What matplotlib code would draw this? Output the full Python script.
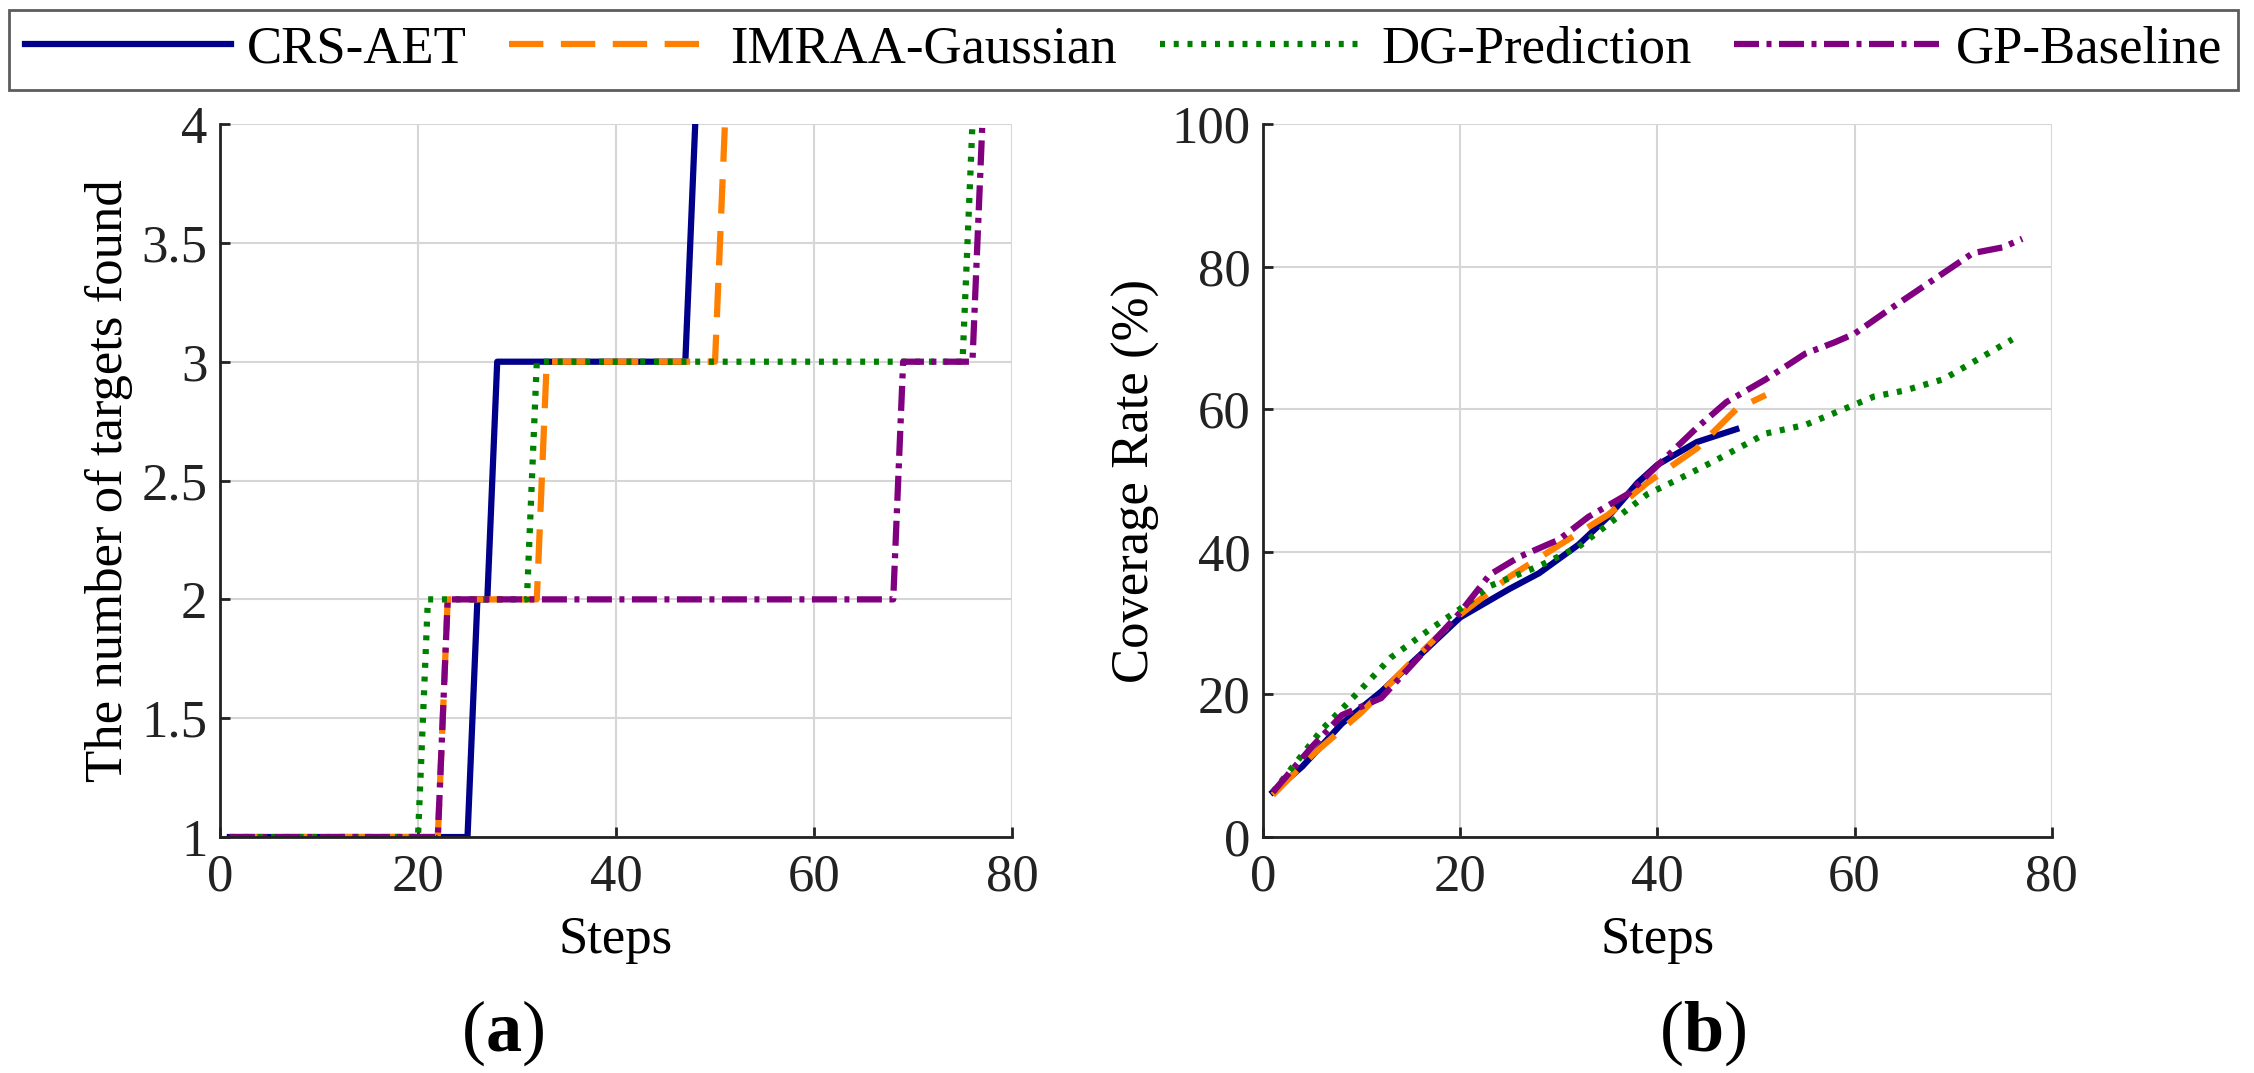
import matplotlib
matplotlib.use("Agg")
import matplotlib.pyplot as plt

plt.rcParams['font.family'] = ['Liberation Serif', 'DejaVu Serif']
plt.rcParams['mathtext.fontset'] = 'custom'
plt.rcParams['mathtext.rm'] = 'Liberation Serif'
plt.rcParams['mathtext.bf'] = 'Liberation Serif:bold'

# ---- data ----
labels = ['CRS-AET', 'IMRAA-Gaussian', 'DG-Prediction', 'GP-Baseline']
colors = ['#00008b', '#ff8000', '#008000', '#800080']

# (a) number of targets found (breakpoints of the step curves)
crs_steps = [1, 25, 26, 27, 28, 47, 48]
crs_found = [1, 1, 2, 2, 3, 3, 4]
imraa_steps = [1, 22, 23, 32, 33, 50, 51]
imraa_found = [1, 1, 2, 2, 3, 3, 4]
dg_steps = [1, 20, 21, 31, 32, 75, 76]
dg_found = [1, 1, 2, 2, 3, 3, 4]
gp_steps = [1, 22, 23, 68, 69, 76, 77]
gp_found = [1, 1, 2, 2, 3, 3, 4]

# (b) coverage rate (%)
crs_cov_x = [1, 4, 8, 12, 16, 20, 23, 25, 28, 32, 35, 38, 40, 44, 48]
crs_cov_y = [6.3, 9.9, 15.9, 20.4, 25.6, 30.8, 33.2, 34.8, 37.0, 41.0, 44.9, 49.7, 52.2, 55.4, 57.2]
imraa_cov_x = [1, 5, 10, 15, 20, 25, 30, 35, 39, 44, 48, 51]
imraa_cov_y = [5.9, 11.5, 17.5, 24.5, 31.2, 36.5, 40.9, 45.2, 49.7, 54.5, 60.0, 62.0]
dg_cov_x = [1, 6, 10, 13, 17, 20, 23, 28, 32, 36, 39, 42, 46, 51, 55, 58, 62, 65, 69, 72, 76]
dg_cov_y = [6.3, 15.1, 20.8, 25.2, 29.2, 32.0, 35.2, 38.0, 40.7, 44.9, 48.1, 50.1, 52.9,
            56.6, 57.8, 59.5, 61.8, 62.6, 64.2, 66.6, 69.8]
gp_cov_x = [1, 5, 8, 12, 16, 20, 23, 26, 30, 33, 37, 40, 44, 47, 51, 55, 58, 60, 63, 66,
            69, 72, 75, 77]
gp_cov_y = [6.3, 12.7, 17.1, 19.5, 25.5, 31.5, 36.8, 39.3, 41.7, 44.9, 48.1, 52.1, 57.4,
            61.0, 64.2, 67.8, 69.4, 70.6, 73.5, 76.3, 79.1, 81.9, 82.7, 83.9]

lw = 4.5
styles = [
    dict(linestyle='-'),
    dict(linestyle=(0, (5.5, 2.8))),
    dict(linestyle=(0, (0.8, 1.4))),
    dict(linestyle=(0, (4, 1.2, 0.8, 1.2))),
]

fig = plt.figure(figsize=(22.54, 10.73), dpi=100)
ax1 = fig.add_axes([0.0976, 0.2199, 0.3514, 0.6645])
ax2 = fig.add_axes([0.5603, 0.2199, 0.3500, 0.6645])

left_data = [(crs_steps, crs_found), (imraa_steps, imraa_found),
             (dg_steps, dg_found), (gp_steps, gp_found)]
right_data = [(crs_cov_x, crs_cov_y), (imraa_cov_x, imraa_cov_y),
              (dg_cov_x, dg_cov_y), (gp_cov_x, gp_cov_y)]

handles = []
for (x, y), c, st, lab in zip(left_data, colors, styles, labels):
    h, = ax1.plot(x, y, color=c, lw=lw, label=lab, **st)
    handles.append(h)
for (x, y), c, st in zip(right_data, colors, styles):
    ax2.plot(x, y, color=c, lw=lw, **st)

def style_axes(ax):
    ax.grid(True, color='#d6d6d6', lw=1.5)
    ax.set_axisbelow(True)
    ax.spines['top'].set_visible(False)
    ax.spines['right'].set_visible(False)
    for s in ['left', 'bottom']:
        ax.spines[s].set_linewidth(2)
        ax.spines[s].set_color('#222222')
    ax.tick_params(direction='in', length=7, width=2, labelsize=38, colors='#222222')
    ax.tick_params(axis='x', pad=12)
    ax.tick_params(axis='y', pad=9)
    ax.set_xlim(0, 80)
    ax.set_xticks([0, 20, 40, 60, 80])
    ax.set_xlabel('Steps', fontsize=38, labelpad=10)

style_axes(ax1)
ax1.set_ylim(1, 4)
ax1.set_yticks([1, 1.5, 2, 2.5, 3, 3.5, 4])
ax1.set_yticklabels(['1', '1.5', '2', '2.5', '3', '3.5', '4'])
ax1.set_ylabel('The number of targets found', fontsize=38, labelpad=6)

style_axes(ax2)
ax2.set_ylim(0, 100)
ax2.set_yticks([0, 20, 40, 60, 80, 100])
ax2.set_ylabel('Coverage Rate (%)', fontsize=38, labelpad=8)

fig.text(0.2231, 0.037, r'($\mathbf{a}$)', fontsize=52, ha='center', va='center')
fig.text(0.7555, 0.037, r'($\mathbf{b}$)', fontsize=52, ha='center', va='center')

leg = fig.legend(handles=handles, loc='upper left', ncol=4, mode='expand',
                 bbox_to_anchor=(0.004, 0.9907, 0.989, 0.0), borderaxespad=0,
                 fontsize=38, handlelength=3.9, handletextpad=0.3, borderpad=0.3,
                 frameon=True, fancybox=False, edgecolor='#333333')
leg.get_frame().set_linewidth(2)

fig.savefig('out.png', dpi=100)
